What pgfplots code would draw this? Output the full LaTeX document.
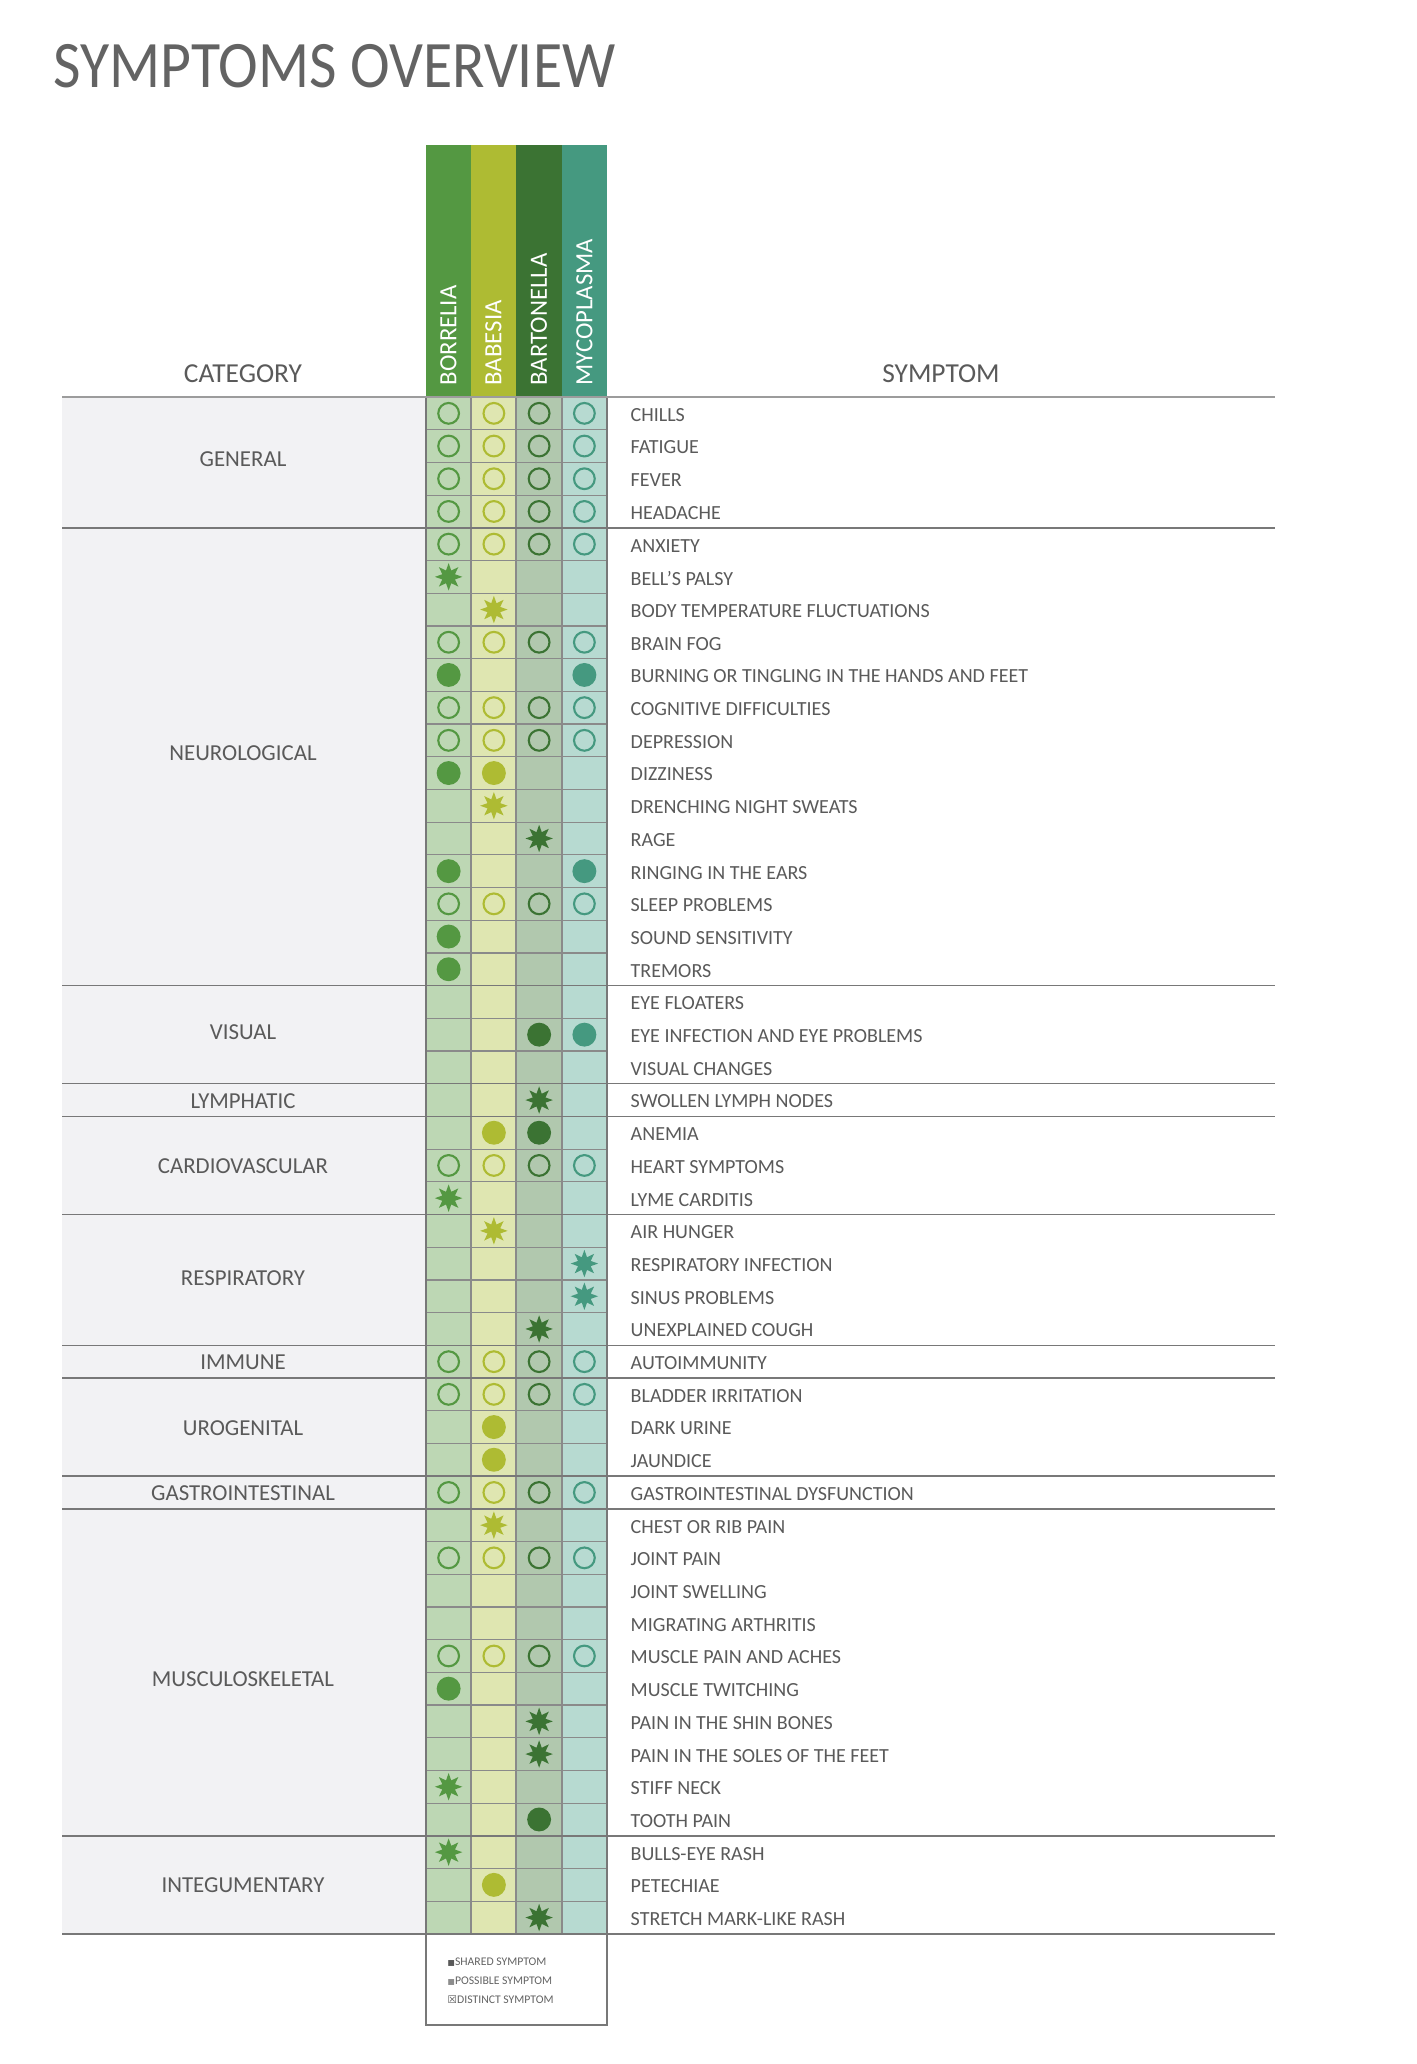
\documentclass[border=0pt]{standalone}
\usepackage{fontspec}
\setmainfont{Carlito}
\newfontfamily\titlefont[FakeStretch=0.9]{Carlito}
\newfontfamily\symfont{DejaVu Sans}
\usepackage{pgfplots}
\usepackage{pgfplotstable}
\pgfplotsset{compat=1.18}

\definecolor{borH}{HTML}{549842}
\definecolor{babH}{HTML}{AEBB33}
\definecolor{barH}{HTML}{3B7333}
\definecolor{mycH}{HTML}{459980}
\definecolor{borL}{HTML}{BDD7B4}
\definecolor{babL}{HTML}{DFE6B1}
\definecolor{barL}{HTML}{B1C8AE}
\definecolor{mycL}{HTML}{B7DAD1}
\definecolor{band}{HTML}{F2F2F4}
\definecolor{txt}{HTML}{5A5A5A}
\definecolor{ttl}{HTML}{636363}
\definecolor{gridc}{HTML}{8A8A8A}
\definecolor{catline}{HTML}{787878}
\definecolor{headline}{HTML}{9C9C9C}

\tikzset{
  rowtxt/.style={anchor=west, inner sep=0pt, text=txt, font=\fontsize{5.7}{6.8}\selectfont},
  cattxt/.style={anchor=center, inner sep=0pt, text=txt, font=\fontsize{6.5}{7.8}\selectfont},
}

\pgfdeclareplotmark{star8}{%
  \pgfpathmoveto{\pgfpointpolar{90}{\pgfplotmarksize}}%
  \pgfpathlineto{\pgfpointpolar{112.5}{0.5*\pgfplotmarksize}}%
  \pgfpathlineto{\pgfpointpolar{135}{\pgfplotmarksize}}%
  \pgfpathlineto{\pgfpointpolar{157.5}{0.5*\pgfplotmarksize}}%
  \pgfpathlineto{\pgfpointpolar{180}{\pgfplotmarksize}}%
  \pgfpathlineto{\pgfpointpolar{202.5}{0.5*\pgfplotmarksize}}%
  \pgfpathlineto{\pgfpointpolar{225}{\pgfplotmarksize}}%
  \pgfpathlineto{\pgfpointpolar{247.5}{0.5*\pgfplotmarksize}}%
  \pgfpathlineto{\pgfpointpolar{270}{\pgfplotmarksize}}%
  \pgfpathlineto{\pgfpointpolar{292.5}{0.5*\pgfplotmarksize}}%
  \pgfpathlineto{\pgfpointpolar{315}{\pgfplotmarksize}}%
  \pgfpathlineto{\pgfpointpolar{337.5}{0.5*\pgfplotmarksize}}%
  \pgfpathlineto{\pgfpointpolar{0}{\pgfplotmarksize}}%
  \pgfpathlineto{\pgfpointpolar{22.5}{0.5*\pgfplotmarksize}}%
  \pgfpathlineto{\pgfpointpolar{45}{\pgfplotmarksize}}%
  \pgfpathlineto{\pgfpointpolar{67.5}{0.5*\pgfplotmarksize}}%
  \pgfpathclose
  \pgfusepathqfill
}

% c = column (1 Borrelia, 2 Babesia, 3 Bartonella, 4 Mycoplasma), r = row (1..47)
\pgfplotstableread{
c r
1 1
1 2
1 3
1 4
1 5
1 8
1 10
1 11
1 16
1 24
1 30
1 31
1 34
1 36
1 39
}\borring
\pgfplotstableread{
c r
2 1
2 2
2 3
2 4
2 5
2 8
2 10
2 11
2 16
2 24
2 30
2 31
2 34
2 36
2 39
}\babring
\pgfplotstableread{
c r
3 1
3 2
3 3
3 4
3 5
3 8
3 10
3 11
3 16
3 24
3 30
3 31
3 34
3 36
3 39
}\barring
\pgfplotstableread{
c r
4 1
4 2
4 3
4 4
4 5
4 8
4 10
4 11
4 16
4 24
4 30
4 31
4 34
4 36
4 39
}\mycring
\pgfplotstableread{
c r
1 9
1 12
1 15
1 17
1 18
1 40
}\borfill
\pgfplotstableread{
c r
1 6
1 25
1 43
1 45
}\borstar
\pgfplotstableread{
c r
2 12
2 23
2 32
2 33
2 46
}\babfill
\pgfplotstableread{
c r
2 7
2 13
2 26
2 35
}\babstar
\pgfplotstableread{
c r
3 20
3 23
3 44
}\barfill
\pgfplotstableread{
c r
3 14
3 22
3 29
3 41
3 42
3 47
}\barstar
\pgfplotstableread{
c r
4 9
4 15
4 20
}\mycfill
\pgfplotstableread{
c r
4 27
4 28
}\mycstar

\newcommand\RY[1]{397+(#1-0.5)*32.7}
\newcommand\rl[2]{\node[rowtxt] at (axis cs:630,{\RY{#1}+1.5}) {#2};}
\newcommand\cl[3]{\node[cattxt] at (axis cs:243,{397+#1*32.7+1+#3}) {#2};}

\begin{document}
\begin{tikzpicture}
\begin{axis}[
  scale only axis, width=14.16cm, height=20.64cm,
  xmin=0, xmax=1416, ymin=0, ymax=2064, y dir=reverse,
  hide axis, clip=false,
  ring/.style={only marks, mark=o, mark size=2.95pt, mark options={line width=0.6pt}},
  dot/.style={only marks, mark=*, mark size=3.2pt, mark options={draw=none}},
  st/.style={only marks, mark=star8, mark size=3.9pt, mark options={draw=none}},
]
\fill[white] (axis cs:0,0) rectangle (axis cs:1416,2064);
% category band
\fill[band] (axis cs:62,397) rectangle (axis cs:426,1934);
% column bodies
\fill[borL] (axis cs:426,397) rectangle (axis cs:471,1934);
\fill[babL] (axis cs:471,397) rectangle (axis cs:516,1934);
\fill[barL] (axis cs:516,397) rectangle (axis cs:562,1934);
\fill[mycL] (axis cs:562,397) rectangle (axis cs:607,1934);
% column headers
\fill[borH] (axis cs:426,145) rectangle (axis cs:471,397);
\fill[babH] (axis cs:471,145) rectangle (axis cs:516,397);
\fill[barH] (axis cs:516,145) rectangle (axis cs:562,397);
\fill[mycH] (axis cs:562,145) rectangle (axis cs:607,397);
% row grid in the columns
\pgfplotsinvokeforeach{1,...,46}{
  \draw[gridc, line width=0.34pt] (axis cs:426,{397+#1*32.7}) -- (axis cs:607,{397+#1*32.7});
}
\draw[gridc, line width=0.34pt] (axis cs:471,397) -- (axis cs:471,1934);
\draw[gridc, line width=0.34pt] (axis cs:516,397) -- (axis cs:516,1934);
\draw[gridc, line width=0.34pt] (axis cs:562,397) -- (axis cs:562,1934);
\draw[catline, line width=0.38pt] (axis cs:426,397) -- (axis cs:426,2025) -- (axis cs:607,2025) -- (axis cs:607,397);
% category separators
\pgfplotsinvokeforeach{4,18,21,22,25,29,30,33,34,44,47}{
  \draw[catline, line width=0.4pt] (axis cs:62,{397+#1*32.7}) -- (axis cs:1275,{397+#1*32.7});
}
\draw[headline, line width=0.55pt] (axis cs:62,397) -- (axis cs:1275,397);

% ---- marks ----
\addplot[ring, color=borH] table[x expr={426+(\thisrow{c}-0.5)*45.25}, y expr={397+(\thisrow{r}-0.5)*32.7}] {\borring};
\addplot[ring, color=babH] table[x expr={426+(\thisrow{c}-0.5)*45.25}, y expr={397+(\thisrow{r}-0.5)*32.7}] {\babring};
\addplot[ring, color=barH] table[x expr={426+(\thisrow{c}-0.5)*45.25}, y expr={397+(\thisrow{r}-0.5)*32.7}] {\barring};
\addplot[ring, color=mycH] table[x expr={426+(\thisrow{c}-0.5)*45.25}, y expr={397+(\thisrow{r}-0.5)*32.7}] {\mycring};
\addplot[dot, color=borH, fill=borH] table[x expr={426+(\thisrow{c}-0.5)*45.25}, y expr={397+(\thisrow{r}-0.5)*32.7}] {\borfill};
\addplot[dot, color=babH, fill=babH] table[x expr={426+(\thisrow{c}-0.5)*45.25}, y expr={397+(\thisrow{r}-0.5)*32.7}] {\babfill};
\addplot[dot, color=barH, fill=barH] table[x expr={426+(\thisrow{c}-0.5)*45.25}, y expr={397+(\thisrow{r}-0.5)*32.7}] {\barfill};
\addplot[dot, color=mycH, fill=mycH] table[x expr={426+(\thisrow{c}-0.5)*45.25}, y expr={397+(\thisrow{r}-0.5)*32.7}] {\mycfill};
\addplot[st, color=borH, fill=borH] table[x expr={426+(\thisrow{c}-0.5)*45.25}, y expr={397+(\thisrow{r}-0.5)*32.7}] {\borstar};
\addplot[st, color=babH, fill=babH] table[x expr={426+(\thisrow{c}-0.5)*45.25}, y expr={397+(\thisrow{r}-0.5)*32.7}] {\babstar};
\addplot[st, color=barH, fill=barH] table[x expr={426+(\thisrow{c}-0.5)*45.25}, y expr={397+(\thisrow{r}-0.5)*32.7}] {\barstar};
\addplot[st, color=mycH, fill=mycH] table[x expr={426+(\thisrow{c}-0.5)*45.25}, y expr={397+(\thisrow{r}-0.5)*32.7}] {\mycstar};

% ---- texts ----
\node[anchor=base west, inner sep=0pt, text=ttl, font=\titlefont\fontsize{18.9}{22}\selectfont] at (axis cs:53,88) {SYMPTOMS OVERVIEW};
\node[anchor=base, inner sep=0pt, text=txt, font=\fontsize{7.8}{9}\selectfont] at (axis cs:243,382) {CATEGORY};
\node[anchor=base, inner sep=0pt, text=txt, font=\fontsize{7.8}{9}\selectfont] at (axis cs:941,382) {SYMPTOM};
\node[rotate=90, anchor=west, inner sep=0pt, text=white, font=\fontsize{7.05}{8}\selectfont] at (axis cs:448.5,386) {BORRELIA};
\node[rotate=90, anchor=west, inner sep=0pt, text=white, font=\fontsize{7.05}{8}\selectfont] at (axis cs:493.5,386) {BABESIA};
\node[rotate=90, anchor=west, inner sep=0pt, text=white, font=\fontsize{7.05}{8}\selectfont] at (axis cs:539,386) {BARTONELLA};
\node[rotate=90, anchor=west, inner sep=0pt, text=white, font=\fontsize{7.05}{8}\selectfont] at (axis cs:584.5,386) {MYCOPLASMA};

\cl{2}{GENERAL}{-4}
\cl{11}{NEUROLOGICAL}{-5}
\cl{19.5}{VISUAL}{-3}
\cl{21.5}{LYMPHATIC}{0}
\cl{23.5}{CARDIOVASCULAR}{0}
\cl{27}{RESPIRATORY}{-3}
\cl{29.5}{IMMUNE}{0}
\cl{31.5}{UROGENITAL}{0}
\cl{33.5}{GASTROINTESTINAL}{0}
\cl{39}{MUSCULOSKELETAL}{6}
\cl{45.5}{INTEGUMENTARY}{-1}

\rl{1}{CHILLS}
\rl{2}{FATIGUE}
\rl{3}{FEVER}
\rl{4}{HEADACHE}
\rl{5}{ANXIETY}
\rl{6}{BELL’S PALSY}
\rl{7}{BODY TEMPERATURE FLUCTUATIONS}
\rl{8}{BRAIN FOG}
\rl{9}{BURNING OR TINGLING IN THE HANDS AND FEET}
\rl{10}{COGNITIVE DIFFICULTIES}
\rl{11}{DEPRESSION}
\rl{12}{DIZZINESS}
\rl{13}{DRENCHING NIGHT SWEATS}
\rl{14}{RAGE}
\rl{15}{RINGING IN THE EARS}
\rl{16}{SLEEP PROBLEMS}
\rl{17}{SOUND SENSITIVITY}
\rl{18}{TREMORS}
\rl{19}{EYE FLOATERS}
\rl{20}{EYE INFECTION AND EYE PROBLEMS}
\rl{21}{VISUAL CHANGES}
\rl{22}{SWOLLEN LYMPH NODES}
\rl{23}{ANEMIA}
\rl{24}{HEART SYMPTOMS}
\rl{25}{LYME CARDITIS}
\rl{26}{AIR HUNGER}
\rl{27}{RESPIRATORY INFECTION}
\rl{28}{SINUS PROBLEMS}
\rl{29}{UNEXPLAINED COUGH}
\rl{30}{AUTOIMMUNITY}
\rl{31}{BLADDER IRRITATION}
\rl{32}{DARK URINE}
\rl{33}{JAUNDICE}
\rl{34}{GASTROINTESTINAL DYSFUNCTION}
\rl{35}{CHEST OR RIB PAIN}
\rl{36}{JOINT PAIN}
\rl{37}{JOINT SWELLING}
\rl{38}{MIGRATING ARTHRITIS}
\rl{39}{MUSCLE PAIN AND ACHES}
\rl{40}{MUSCLE TWITCHING}
\rl{41}{PAIN IN THE SHIN BONES}
\rl{42}{PAIN IN THE SOLES OF THE FEET}
\rl{43}{STIFF NECK}
\rl{44}{TOOTH PAIN}
\rl{45}{BULLS-EYE RASH}
\rl{46}{PETECHIAE}
\rl{47}{STRETCH MARK-LIKE RASH}

% legend
\node[anchor=west, inner sep=0pt, text=ttl, font=\fontsize{3.33}{4}\selectfont] at (axis cs:447,1962) {{\symfont\fontsize{2.2}{3}\selectfont\textcolor{black!65}{■}}SHARED SYMPTOM};
\node[anchor=west, inner sep=0pt, text=ttl, font=\fontsize{3.33}{4}\selectfont] at (axis cs:447,1981) {{\symfont\fontsize{2.2}{3}\selectfont\textcolor{black!45}{■}}POSSIBLE SYMPTOM};
\node[anchor=west, inner sep=0pt, text=ttl, font=\fontsize{3.33}{4}\selectfont] at (axis cs:447,2000) {{\symfont\fontsize{3.0}{3.5}\selectfont\textcolor{black!65}{☒}}DISTINCT SYMPTOM};
\end{axis}
\end{tikzpicture}
\end{document}
